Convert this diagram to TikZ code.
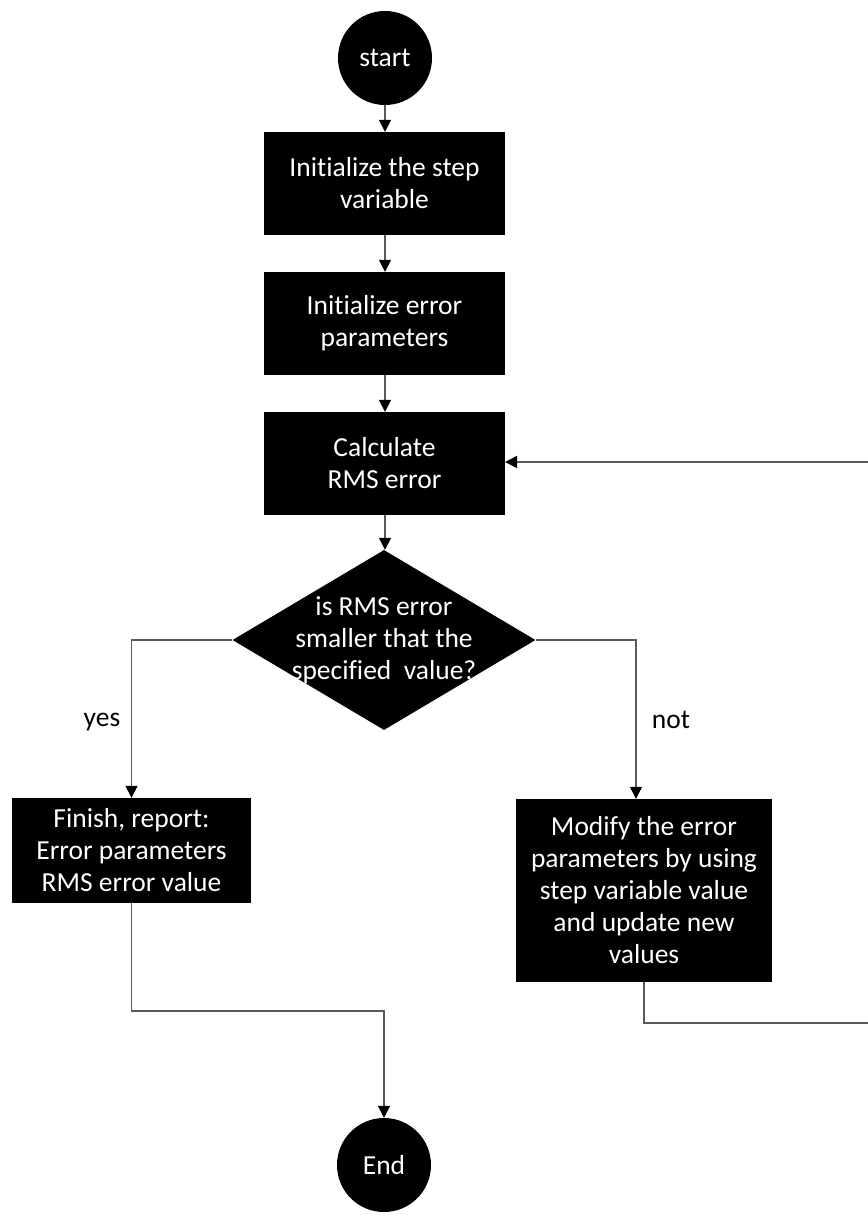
\documentclass[tikz,border=0pt]{standalone}
\usepackage{fontspec}
\setmainfont{Carlito}[Ligatures=NoCommon]
\usetikzlibrary{shapes.geometric,arrows.meta}
\begin{document}
\begin{tikzpicture}[x=1pt,y=-1pt,
  txt/.style={font=\fontsize{27.5}{32}\selectfont, align=center},
  wtxt/.style={txt, text=white},
  term/.style={circle, fill=black, wtxt, minimum size=94pt, inner sep=0pt},
  procbox/.style={rectangle, fill=black, wtxt, inner sep=0pt},
  decide/.style={diamond, fill=black, inner sep=0pt, aspect=1.683, minimum width=303pt, minimum height=180pt},
  conn/.style={draw=black!65, line width=1.4pt},
  arr/.style={conn, -{Triangle[width=12pt,length=12pt,color=black]}},
  lbl/.style={txt, text=black}
]
\useasboundingbox (0,0) rectangle (867,1217);

\node[term] (start) at (385,58) {start};
\node[procbox, minimum width=241pt, minimum height=103pt] (b1) at (384.5,183.5) {Initialize the step\\variable};
\node[procbox, minimum width=241pt, minimum height=103pt] (b2) at (384.5,323.5) {Initialize error\\parameters};
\node[procbox, minimum width=241pt, minimum height=103pt] (b3) at (384.5,463.5) {Calculate\\RMS error};
\node[decide, label={[wtxt]center:{is RMS error\\smaller that the\\specified~ value?}}] (d) at (384,640) {};
\node[procbox, minimum width=239pt, minimum height=105pt] (b4) at (131.5,850.5) {Finish, report:\\Error parameters\\RMS error value};
\node[procbox, minimum width=256pt, minimum height=183pt] (b5) at (644,890.5) {Modify the error\\parameters by using\\step variable value\\and update new\\values};
\node[term] (end) at (384,1165) {End};

\node[lbl] (yes) at (102,722) {yes};
\node[lbl] (no) at (671,720) {not};

\coordinate (nb5) at (636,798.8);
\coordinate (loopA) at (644,1023);
\coordinate (loopB) at (870,1023);
\coordinate (loopC) at (870,462);
\coordinate (loopD) at (505,462);
\coordinate (jA) at (384,1011);

\draw[arr] (start) -- (start |- b1.north);
\draw[arr] (b1.south -| start) -- (b2.north -| start);
\draw[arr] (b2.south -| start) -- (b3.north -| start);
\draw[arr] (b3.south -| start) -- (d.north -| start);
\draw[arr] (d.west) -| (b4.north);
\draw[arr] (d.east) -| (nb5);
\draw[conn] (b5.south) -- (loopA) -- (loopB) -- (loopC);
\draw[arr] (loopC) -- (loopD);
\draw[arr] (b4.south) |- (jA) -- (end.north);
\end{tikzpicture}
\end{document}
